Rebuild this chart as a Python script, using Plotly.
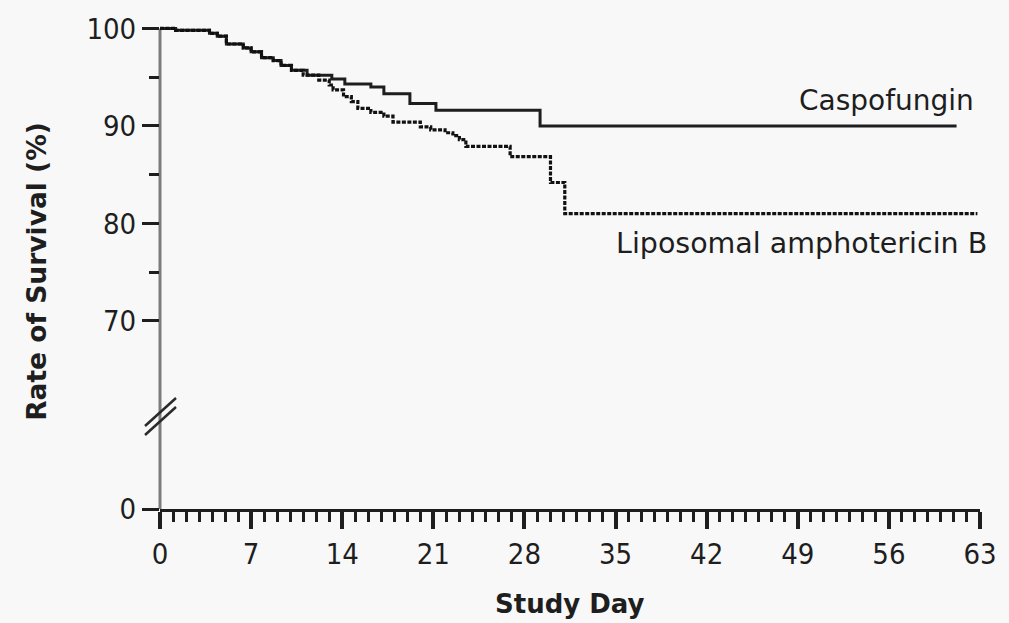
import plotly.graph_objects as go

# ---- data ----
days_casp = [0, 1.2, 3.8, 4.4, 5.1, 6.4, 7.0, 7.8, 8.7, 9.3, 10.1, 11.3, 13.2, 14.2,
             16.2, 17.2, 19.2, 21.2, 29.2, 61.2]
surv_casp = [100, 99.8, 99.5, 99.2, 98.4, 98.0, 97.6, 97.0, 96.7, 96.2, 95.7, 95.2, 94.8, 94.3,
             94.0, 93.3, 92.3, 91.6, 90.0, 90.0]

days_lipo = [0, 1.2, 3.8, 4.4, 5.1, 6.4, 7.0, 7.8, 8.7, 9.3, 10.1, 11.0, 12.2, 13.0, 13.3,
             14.1, 14.7, 15.2, 16.2, 17.2, 17.9, 20.0, 20.8, 21.9, 22.5, 23.0, 23.5, 26.9,
             30.0, 31.1, 62.8]
surv_lipo = [100, 99.8, 99.5, 99.2, 98.4, 98.0, 97.6, 97.0, 96.7, 96.2, 95.7, 95.2, 94.7, 94.2, 93.7,
             93.0, 92.5, 91.8, 91.4, 91.0, 90.4, 89.9, 89.6, 89.3, 89.0, 88.6, 87.9, 86.85,
             84.2, 81.0, 81.0]

x_ticks = list(range(0, 64, 7))
y_break_pos = 50.72          # where the "0" tick sits below the axis break
y_top = 100.35
y_tick_vals = [y_break_pos, 70, 80, 90, 100]
y_tick_text = ["0", "70", "80", "90", "100"]
y_minor_vals = [75, 85, 95]

label_casp = "Caspofungin"
label_lipo = "Liposomal amphotericin B"

BG = "#f8f8f8"
INK = "#1e1e1e"
TICKFONT = dict(family="DejaVu Sans Condensed, Liberation Sans Narrow, DejaVu Sans", size=29, color=INK)


def yfrac(v):
    return (v - y_break_pos) / (y_top - y_break_pos)


fig = go.Figure()
fig.add_trace(go.Scatter(x=days_casp, y=surv_casp, mode="lines", line_shape="hv",
                         line=dict(color=INK, width=3), showlegend=False, name=label_casp))
fig.add_trace(go.Scatter(x=days_lipo, y=surv_lipo, mode="lines", line_shape="hv",
                         line=dict(color="#111111", width=3.2, dash="4px,1.5px"), showlegend=False,
                         name=label_lipo))

# gray y-axis line (paper refs so it is not clipped)
fig.add_shape(type="line", xref="paper", yref="paper", x0=0, x1=0, y0=0, y1=yfrac(100),
              line=dict(color="#7c7c7c", width=3), layer="below")
# axis break marks
y_break_mark = yfrac((70 + y_break_pos) / 2)
for off in (3, -6):
    fig.add_shape(type="line", xref="paper", yref="paper", xsizemode="pixel", ysizemode="pixel",
                  xanchor=0, yanchor=y_break_mark,
                  x0=-15, x1=16, y0=off - 14, y1=off + 14,
                  line=dict(color="#2a2a2a", width=2.5))

fig.add_annotation(text=label_casp, xref="paper", yref="paper", x=0.995, y=0.845,
                   xanchor="right", yanchor="middle", showarrow=False,
                   font=dict(family="DejaVu Sans", size=28, color=INK))
fig.add_annotation(text=label_lipo, xref="paper", yref="paper", x=1.0115, y=0.548,
                   xanchor="right", yanchor="middle", showarrow=False,
                   font=dict(family="DejaVu Sans", size=28.5, color=INK))
fig.add_annotation(text="<b>Study Day</b>", xref="paper", yref="paper", x=0.5, y=-0.197,
                   xanchor="center", yanchor="middle", showarrow=False,
                   font=dict(family="DejaVu Sans", size=26, color=INK))
fig.add_annotation(text="<b>Rate of Survival (%)</b>", xref="paper", yref="paper", x=-0.150, y=0.49,
                   xanchor="center", yanchor="middle", showarrow=False, textangle=-90,
                   font=dict(family="DejaVu Sans", size=26.5, color=INK))

fig.update_xaxes(range=[0, 63], tickmode="array", tickvals=x_ticks,
                 ticks="outside", ticklen=17, tickwidth=3.5, tickcolor=INK,
                 showline=True, linecolor=INK, linewidth=2.5,
                 showgrid=False, zeroline=False, tickfont=TICKFONT,
                 minor=dict(dtick=1, tick0=0, ticks="outside", ticklen=10, tickwidth=3, tickcolor=INK,
                            showgrid=False))
fig.update_yaxes(range=[y_break_pos, y_top], tickmode="array", tickvals=y_tick_vals,
                 ticktext=y_tick_text, ticks="outside", ticklen=17, tickwidth=3, tickcolor=INK,
                 showline=False, showgrid=False, zeroline=False, tickfont=TICKFONT,
                 minor=dict(tickmode="array", tickvals=y_minor_vals, ticks="outside",
                            ticklen=10, tickwidth=3, tickcolor=INK, showgrid=False))

fig.update_layout(width=1009, height=623, margin=dict(l=160, r=23, t=25, b=114),
                  paper_bgcolor=BG, plot_bgcolor=BG, showlegend=False)

fig.write_html("out.html")
